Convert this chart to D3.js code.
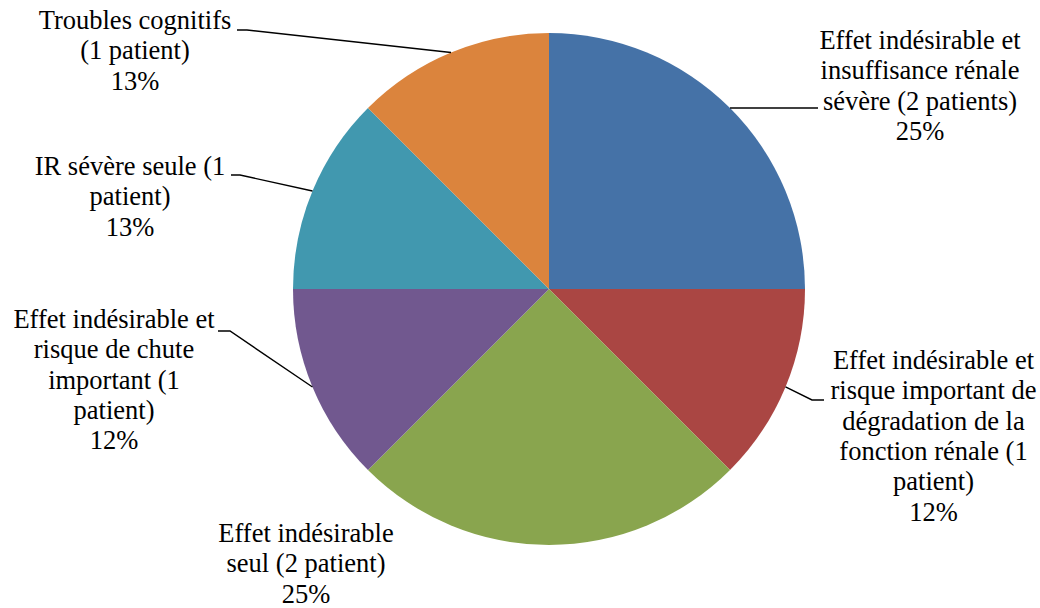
<!DOCTYPE html>
<html>
<head>
<meta charset="utf-8">
<script src="https://cdn.jsdelivr.net/npm/d3@7"></script>
<style>
html,body{margin:0;padding:0;background:#fff;}
svg{display:block;}
</style>
</head>
<body>
<svg id="chart" width="1040" height="608"></svg>
<script>
// ---- data ----
const categories = [
  "Effet indésirable et insuffisance rénale sévère (2 patients)",
  "Effet indésirable et risque important de dégradation de la fonction rénale (1 patient)",
  "Effet indésirable seul (2 patient)",
  "Effet indésirable et risque de chute important (1 patient)",
  "IR sévère seule (1 patient)",
  "Troubles cognitifs (1 patient)"
];
const categoryLines = [
  ["Effet indésirable et", "insuffisance rénale", "sévère (2 patients)"],
  ["Effet indésirable et", "risque important de", "dégradation de la", "fonction rénale (1", "patient)"],
  ["Effet indésirable", "seul (2 patient)"],
  ["Effet indésirable et", "risque de chute", "important (1", "patient)"],
  ["IR sévère seule (1", "patient)"],
  ["Troubles cognitifs", "(1 patient)"]
];
const values = [2, 1, 2, 1, 1, 1];
const percentLabels = ["25%", "12%", "25%", "12%", "13%", "13%"];
const colors = ["#4572A7", "#AA4643", "#89A54E", "#71588F", "#4198AF", "#DB843D"];

// ---- layout ----
const cx = 549, cy = 289, R = 256;
const lineH = 30.3;
const labelLayout = [
  {x: 920, y: 49,  pts: [[818, 108]]},
  {x: 933.5, y: 369, pts: [[812, 400], [824, 400]]},
  {x: 306, y: 542, pts: null},
  {x: 114, y: 328, pts: [[230, 331], [218, 331]]},
  {x: 130, y: 175, pts: [[240, 175], [231, 175]]},
  {x: 135, y: 29,  pts: [[247, 30], [237, 30]]}
];

const svg = d3.select("#chart");
const g = svg.append("g").attr("transform", `translate(${cx},${cy})`);

const pie = d3.pie().sort(null).value(d => d)(values);
const arc = d3.arc().innerRadius(0).outerRadius(R);

g.selectAll("path.slice").data(pie).join("path")
  .attr("class", "slice")
  .attr("d", arc)
  .attr("fill", (d, i) => colors[i]);

// leader lines
pie.forEach((d, i) => {
  const L = labelLayout[i];
  if (!L.pts) return;
  const a = (d.startAngle + d.endAngle) / 2;
  const start = [cx + R * Math.sin(a), cy - R * Math.cos(a)];
  const pts = [start].concat(L.pts);
  svg.append("path")
    .attr("d", d3.line()(pts))
    .attr("fill", "none")
    .attr("stroke", "#000")
    .attr("stroke-width", 1.4);
});

// labels: one text element per line
pie.forEach((d, i) => {
  const L = labelLayout[i];
  const lines = categoryLines[i].concat([percentLabels[i]]);
  lines.forEach((s, k) => {
    svg.append("text")
      .attr("x", L.x).attr("y", L.y + k * lineH)
      .attr("text-anchor", "middle")
      .attr("font-size", 26.5)
      .style("font-family", "'Liberation Serif', Tinos, 'Times New Roman', serif")
      .attr("fill", "#000")
      .text(s);
  });
});
</script>
</body>
</html>
